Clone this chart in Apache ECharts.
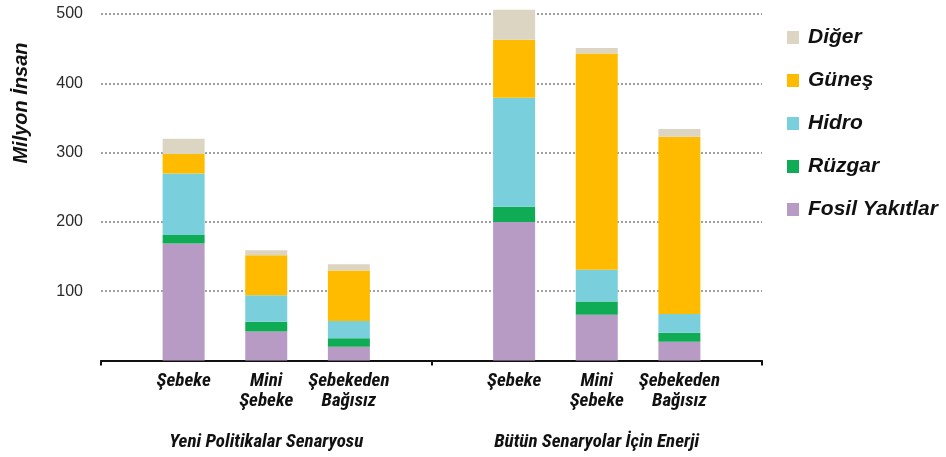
<!DOCTYPE html>
<html>
<head>
<meta charset="utf-8">
<script src="https://cdn.jsdelivr.net/npm/echarts@6/dist/echarts.min.js"></script>
<style>
  html, body { margin: 0; padding: 0; background: #fff; }
  #chart { width: 946px; height: 457px; }
</style>
</head>
<body>
<div id="chart"></div>
<script>
// Access to electricity by 2030 (million people), two scenarios, three supply modes each.
// Empty slots ('') separate the two scenario groups on the category axis.
const categories = ['', 'Şebeke', 'Mini\nŞebeke', 'Şebekeden\nBağısız', '', 'Şebeke', 'Mini\nŞebeke', 'Şebekeden\nBağısız', ''];
const scenarios = ['Yeni Politikalar Senaryosu', 'Bütün Senaryolar İçin Enerji'];

const fosil  = [null, 169, 42, 20, null, 200, 66, 27, null];
const ruzgar = [null, 12, 14, 12, null, 22, 19, 13, null];
const hidro  = [null, 89, 38, 25, null, 157, 46, 27, null];
const gunes  = [null, 28, 58, 73, null, 84, 312, 256, null];
const diger  = [null, 22, 7, 9, null, 43, 8, 11, null];

const yTicks = [0, 100, 200, 300, 400, 500];

const narrow = '"Liberation Sans Narrow", "Arial Narrow", "Roboto Condensed", "Liberation Sans", sans-serif';
const sans = '"Liberation Sans", Arial, sans-serif';

const chart = echarts.init(document.getElementById('chart'));

function bar(name, data, color) {
  return {
    name: name,
    type: 'bar',
    stack: 'total',
    data: data,
    barWidth: 42,
    clip: false,
    itemStyle: { color: color },
    emphasis: { disabled: true }
  };
}

chart.setOption({
  animation: false,
  backgroundColor: '#fff',
  grid: { left: 101, right: 184, top: 14, bottom: 96.5, containLabel: false },
  legend: {
    orient: 'vertical',
    left: 782,
    top: 22,
    itemWidth: 12,
    itemHeight: 13,
    itemGap: 22,
    icon: 'rect',
    data: ['Diğer', 'Güneş', 'Hidro', 'Rüzgar', 'Fosil Yakıtlar'],
    textStyle: { fontFamily: sans, fontSize: 21, lineHeight: 20, fontWeight: 'bold', fontStyle: 'italic', color: '#111', padding: [0, 0, 0, 4] }
  },
  xAxis: [
    {
      type: 'category',
      data: categories,
      boundaryGap: false,
      axisLine: { lineStyle: { color: '#111', width: 2 } },
      axisTick: {
        show: true,
        length: 5,
        interval: function (i) { return i % 4 === 0; },
        lineStyle: { color: '#111', width: 2 }
      },
      axisLabel: {
        interval: 0,
        margin: 11,
        fontFamily: narrow,
        fontSize: 19,
        fontWeight: 'bold',
        fontStyle: 'italic',
        lineHeight: 20,
        color: '#111'
      },
      splitLine: { show: false }
    },
    {
      type: 'category',
      data: scenarios,
      position: 'bottom',
      offset: 64,
      boundaryGap: true,
      axisLine: { show: false },
      axisTick: { show: false },
      axisLabel: {
        interval: 0,
        margin: 8,
        fontFamily: narrow,
        fontSize: 19,
        fontWeight: 'bold',
        fontStyle: 'italic',
        color: '#111'
      }
    }
  ],
  yAxis: {
    type: 'value',
    min: yTicks[0],
    max: yTicks[yTicks.length - 1],
    interval: 100,
    axisLine: { show: false },
    axisTick: { show: false },
    axisLabel: {
      margin: 18,
      fontFamily: sans,
      fontSize: 16,
      color: '#2a2a2a',
      formatter: function (v) { return v === 0 ? '' : String(v); }
    },
    splitLine: { lineStyle: { color: '#a0a0a0', width: 2, type: [2, 2] } }
  },
  graphic: [
    {
      type: 'text',
      x: 21,
      y: 103,
      rotation: Math.PI / 2,
      style: {
        text: 'Milyon İnsan',
        fontFamily: sans,
        fontSize: 20,
        fontWeight: 'bold',
        fontStyle: 'italic',
        fill: '#111',
        align: 'center',
        verticalAlign: 'middle'
      }
    }
  ],
  series: [
    bar('Fosil Yakıtlar', fosil, '#b89bc4'),
    bar('Rüzgar', ruzgar, '#10ac55'),
    bar('Hidro', hidro, '#7acfdc'),
    bar('Güneş', gunes, '#ffbb00'),
    bar('Diğer', diger, '#dcd5c2')
  ]
});
</script>
</body>
</html>
